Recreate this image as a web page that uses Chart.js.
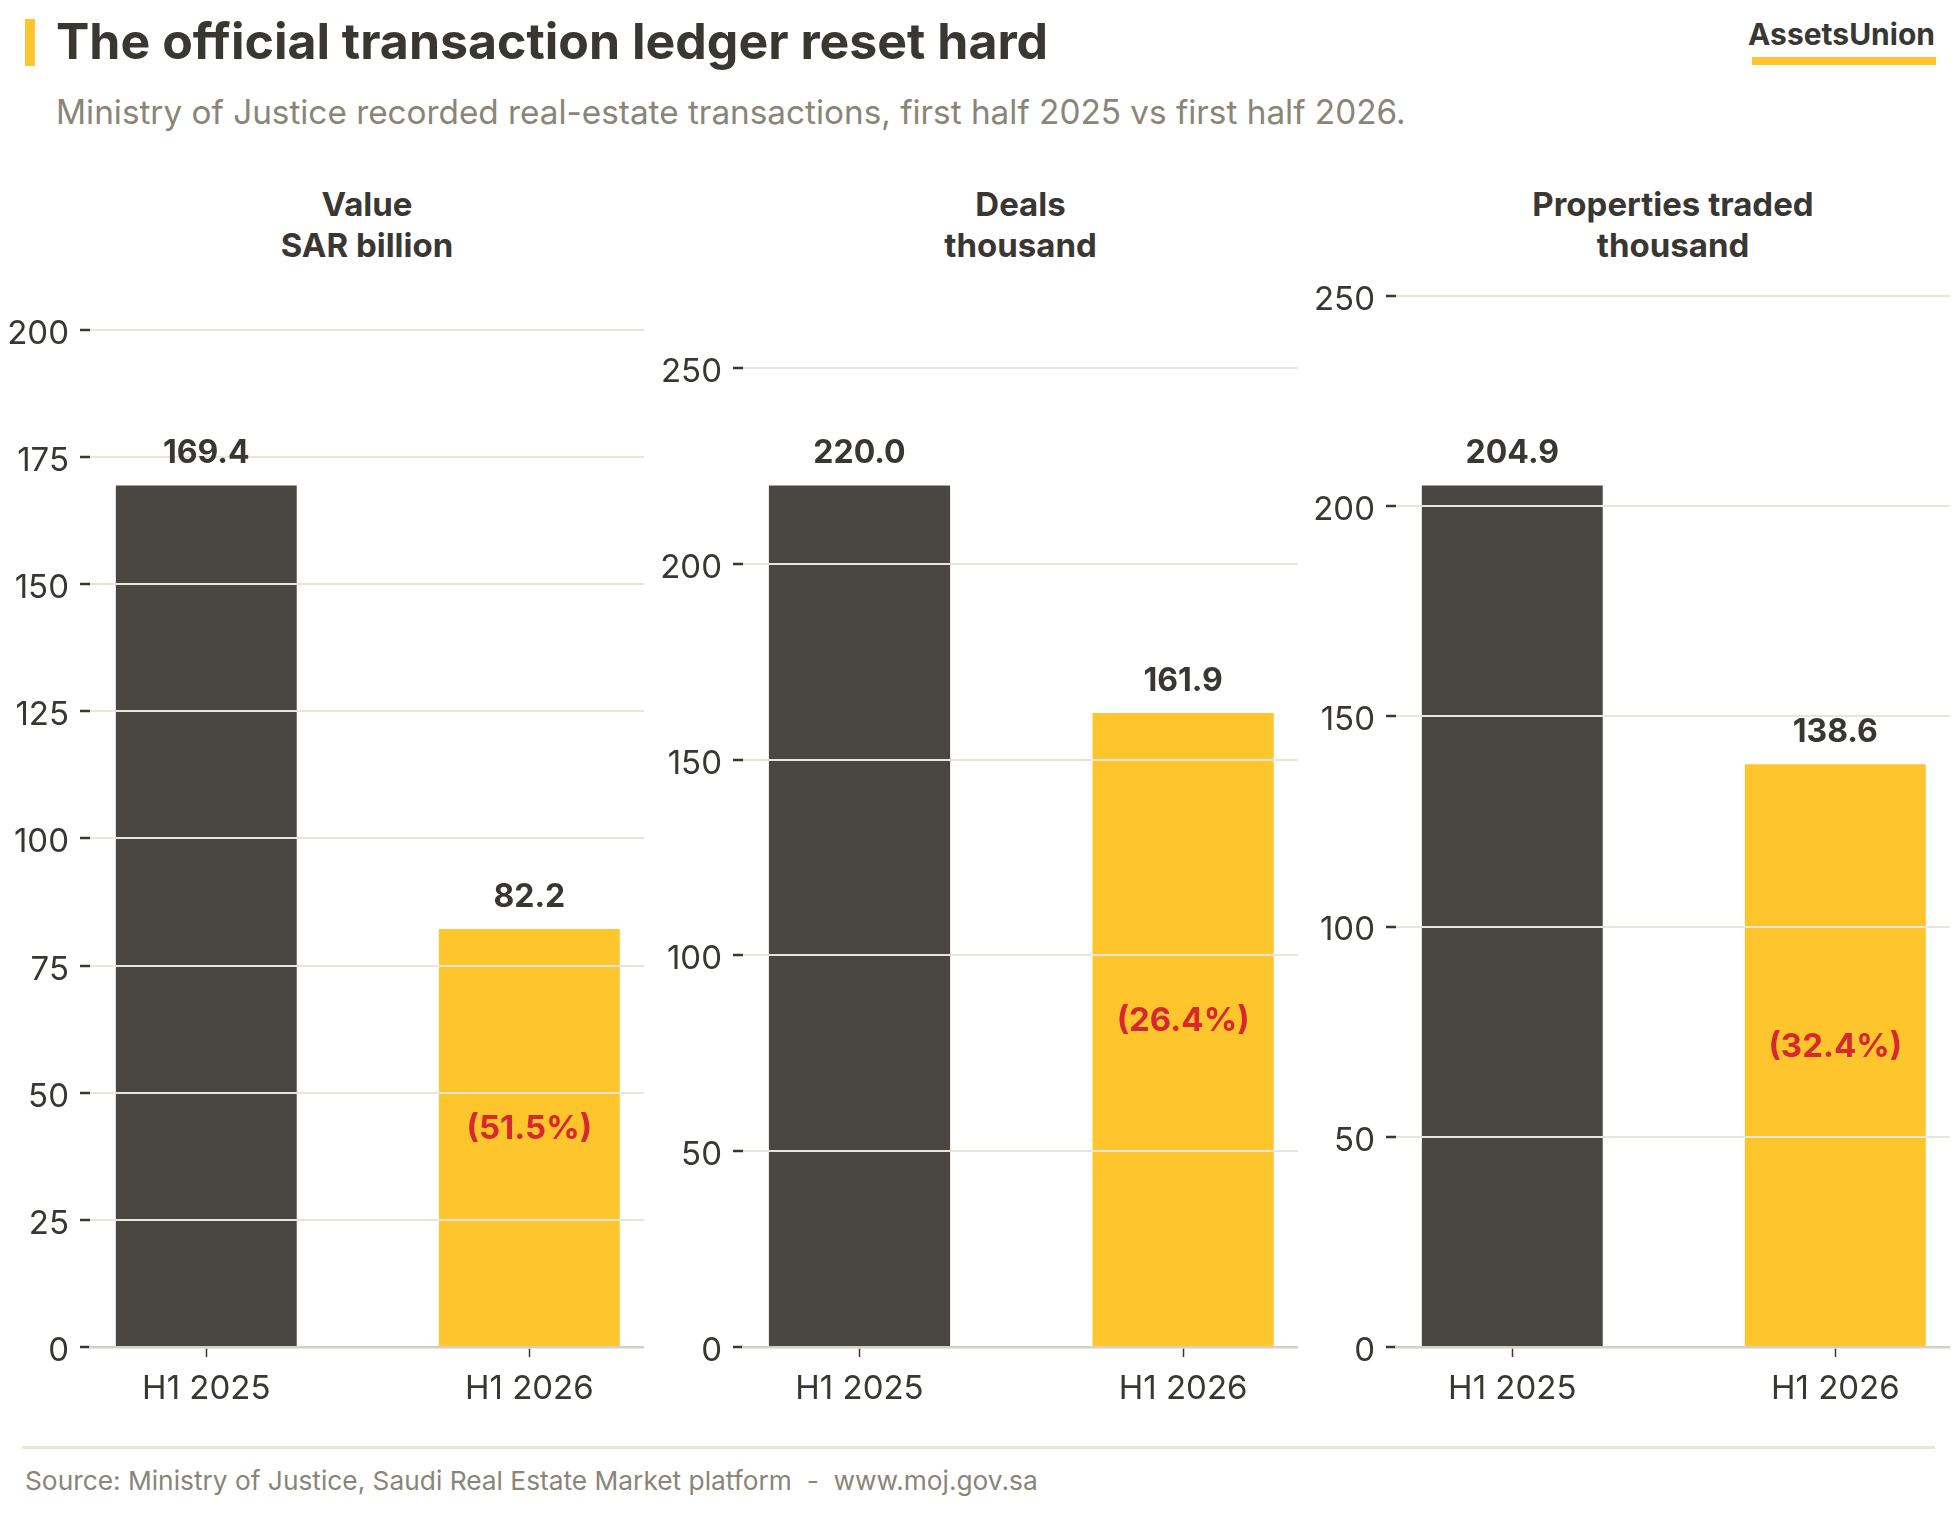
<!DOCTYPE html>
<html>
<head>
<meta charset="utf-8">
<script src="https://cdn.jsdelivr.net/npm/chart.js@4.4.1/dist/chart.umd.min.js"></script>
<style>
  html, body { margin:0; padding:0; background:#ffffff; }
  body { width:1960px; height:1520px; position:relative; overflow:hidden; font-family:Inter, "Noto Sans", sans-serif; color:#3a3733; }
  .abs { position:absolute; white-space:nowrap; }
  #accent { left:25px; top:19px; width:10px; height:47px; background:#ffc52c; }
  #title { left:56px; top:11px; font-size:50px; line-height:60px; font-weight:700; color:#3a3733; }
  #subtitle { left:56px; top:92px; font-size:33.3px; line-height:40px; color:#8a8577; }
  #brand { right:25px; top:15px; font-size:30px; line-height:38px; font-weight:700; color:#3a3733; }
  #brandbar { left:1752px; top:57px; width:184px; height:8px; background:#ffc52c; }
  .ptitle { top:184px; font-size:33px; line-height:41px; font-weight:700; text-align:center; color:#3a3733; }
  #footline { left:22px; top:1446px; width:1913px; height:3px; background:#e9e6dd; }
  #source { left:25px; top:1465px; font-size:26.3px; line-height:32px; color:#8a8577; }
  canvas { position:absolute; }
</style>
</head>
<body>
<div class="abs" id="accent"></div>
<div class="abs" id="title">The official transaction ledger reset hard</div>
<div class="abs" id="subtitle">Ministry of Justice recorded real-estate transactions, first half 2025 vs first half 2026.</div>
<div class="abs" id="brand">AssetsUnion</div>
<div class="abs" id="brandbar"></div>
<div id="titles"></div>
<canvas id="c1"></canvas>
<canvas id="c2"></canvas>
<canvas id="c3"></canvas>
<div class="abs" id="footline"></div>
<div class="abs" id="source">Source: Ministry of Justice, Saudi Real Estate Market platform&nbsp; - &nbsp;www.moj.gov.sa</div>
<script>
// ---- data ----
const categories = ['H1 2025', 'H1 2026'];
const valueTitle = ['Value', 'SAR billion'];
const dealsTitle = ['Deals', 'thousand'];
const propertiesTitle = ['Properties traded', 'thousand'];
const valueSeries = [169.4, 82.2];
const dealsSeries = [220.0, 161.9];
const propertiesSeries = [204.9, 138.6];
const valueTicks = [0, 25, 50, 75, 100, 125, 150, 175, 200];
const dealsTicks = [0, 50, 100, 150, 200, 250];
const propertiesTicks = [0, 50, 100, 150, 200, 250];

// ---- style ----
const barColors = ['#4a4642', '#ffc52c'];
const textColor = '#3a3733';
const redColor = '#d7282f';
const gridColor = '#e8e5dc';
const axisColor = '#d6d0c2';
const FONT = 'Inter, "Noto Sans", sans-serif';

const CANVAS_TOP = 260;
const CANVAS_H = 1160;
const Y_AXIS_W = 90;
const X_AXIS_H = 73;

const labelPlugin = {
  id: 'barLabels',
  afterDraw(chart) {
    const ctx = chart.ctx;
    const meta = chart.getDatasetMeta(0);
    const vals = chart.data.datasets[0].data.map(d => d.y);
    ctx.save();
    ctx.textAlign = 'center';
    ctx.textBaseline = 'middle';
    meta.data.forEach((bar, i) => {
      ctx.font = '700 32px ' + FONT;
      ctx.fillStyle = textColor;
      ctx.fillText(vals[i].toFixed(1), bar.x, bar.y - 32);
      if (i > 0) {
        const pct = (vals[0] - vals[i]) / vals[0] * 100;
        ctx.font = '700 33px ' + FONT;
        ctx.fillStyle = redColor;
        const mid = (bar.y + bar.base) / 2;
        ctx.fillText('(' + pct.toFixed(1) + '%)', bar.x, mid - 8);
      }
    });
    ctx.restore();
  }
};

function makeChart(id, left, width, values, ticks, titleLines) {
  const canvas = document.getElementById(id);
  canvas.width = width;
  canvas.height = CANVAS_H;
  canvas.style.left = left + 'px';
  canvas.style.top = CANVAS_TOP + 'px';
  canvas.style.width = width + 'px';
  canvas.style.height = CANVAS_H + 'px';

  const t = document.createElement('div');
  t.className = 'abs ptitle';
  t.style.left = (left + Y_AXIS_W) + 'px';
  t.style.width = (width - Y_AXIS_W) + 'px';
  t.innerHTML = titleLines.join('<br>');
  document.getElementById('titles').appendChild(t);

  const yMax = Math.max(...values) * 1.22;
  return new Chart(canvas, {
    type: 'bar',
    data: {
      datasets: [{
        data: values.map((v, i) => ({ x: i, y: v })),
        backgroundColor: barColors,
        borderWidth: 0,
        barPercentage: 0.56,
        categoryPercentage: 1
      }]
    },
    options: {
      responsive: false,
      animation: false,
      devicePixelRatio: 1,
      layout: { padding: { top: 36, right: 0, bottom: 0, left: 0 } },
      plugins: { legend: { display: false }, tooltip: { enabled: false }, title: { display: false } },
      scales: {
        x: {
          type: 'linear',
          min: -0.36,
          max: 1.355,
          offset: false,
          afterBuildTicks: s => { s.ticks = categories.map((c, i) => ({ value: i })); },
          afterFit: s => { s.height = X_AXIS_H; },
          grid: { display: true, drawOnChartArea: false, drawTicks: true, tickLength: 10, tickColor: textColor, tickWidth: 1.5, offset: false },
          border: { display: true, color: axisColor, width: 2.5, z: 2 },
          ticks: {
            callback: v => categories[v] !== undefined ? categories[v] : '',
            font: { family: FONT, size: 33 }, color: textColor, padding: 12, maxRotation: 0, autoSkip: false
          }
        },
        y: {
          type: 'linear',
          min: 0,
          max: yMax,
          afterBuildTicks: s => { s.ticks = ticks.map(v => ({ value: v })); },
          afterFit: s => { s.width = Y_AXIS_W; },
          grid: { color: gridColor, lineWidth: 2, drawTicks: true, tickLength: 10, tickColor: textColor, tickWidth: 2.5, z: 1 },
          border: { display: false },
          ticks: { font: { family: FONT, size: 33 }, color: textColor, padding: 11, labelOffset: 4 }
        }
      }
    },
    plugins: [labelPlugin]
  });
}

makeChart('c1', 0, 644, valueSeries, valueTicks, valueTitle);
makeChart('c2', 653, 645, dealsSeries, dealsTicks, dealsTitle);
makeChart('c3', 1306, 644, propertiesSeries, propertiesTicks, propertiesTitle);
</script>
</body>
</html>
